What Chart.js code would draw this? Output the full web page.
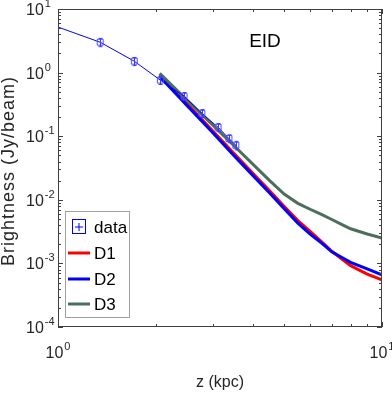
<!DOCTYPE html>
<html>
<head>
<meta charset="utf-8">
<script src="https://cdn.jsdelivr.net/npm/chart.js@4/dist/chart.umd.min.js"></script>
<style>
  html, body { margin: 0; padding: 0; background: #fff; }
  #wrap { position: relative; width: 392px; height: 393px; }
</style>
</head>
<body>
<div id="wrap"><canvas id="c" width="392" height="393"></canvas></div>
<script>
const dataZ = [1.35, 1.72, 2.07, 2.45, 2.78, 3.12, 3.37, 3.54];
const dataB = [3.0, 1.51, 0.76, 0.425, 0.229, 0.138, 0.092, 0.072];
const dataErr = [0.45, 0.22, 0.11, 0.06, 0.033, 0.02, 0.013, 0.011];
// the thin data line starts at the left edge
const lineStartZ = 1.0;
const lineStartB = 5.2;

const modelZ = [2.06, 2.5, 3, 3.5, 4, 4.5, 5, 5.5, 6, 6.5, 7, 7.5, 8, 9, 10];
const d1 = [0.92, 0.325, 0.122, 0.053, 0.0259, 0.0138, 0.0078, 0.0047, 0.0032, 0.0022, 0.00155, 0.00118, 0.00092, 0.00068, 0.00055];
const d2 = [0.87, 0.305, 0.114, 0.049, 0.024, 0.0128, 0.0072, 0.0043, 0.0029, 0.0021, 0.00152, 0.00125, 0.00104, 0.00082, 0.00066];
const d3 = [0.97, 0.371, 0.151, 0.070, 0.036, 0.020, 0.0122, 0.0088, 0.0071, 0.0059, 0.0049, 0.0041, 0.0035, 0.0029, 0.0025];

const xExp = [0, 1];
const yExp = [-4, -3, -2, -1, 0, 1];

const BLUE = '#0000ff', RED = '#ff0000', GREEN = '#4b6f5a';
const AXIS = '#404040', TEXT = '#262626';
const FONT = '"Liberation Sans", Arial, Helvetica, sans-serif';

const pts = (xs, ys) => xs.map((x, i) => ({ x: x, y: ys[i] }));
const dataLine = [{ x: lineStartZ, y: lineStartB }].concat(pts(dataZ, dataB));

// box, inward ticks, tick labels, titles, error bars
const decor = {
    id: 'decor',
    afterDatasetsDraw(chart) {
        const ctx = chart.ctx;
        const xs = chart.scales.x, ys = chart.scales.y;
        // error bars for the data points
        ctx.save();
        ctx.strokeStyle = '#3a3aff';
        ctx.lineWidth = 1;
        dataZ.forEach((z, i) => {
            const px = Math.round(xs.getPixelForValue(z)) + 0.5;
            const top = ys.getPixelForValue(dataB[i] + dataErr[i]);
            const bot = ys.getPixelForValue(dataB[i] - dataErr[i]);
            ctx.beginPath();
            ctx.moveTo(px, top); ctx.lineTo(px, bot);
            ctx.moveTo(px - 2, top); ctx.lineTo(px + 2, top);
            ctx.moveTo(px - 2, bot); ctx.lineTo(px + 2, bot);
            ctx.stroke();
        });
        ctx.restore();
    },
    afterDraw(chart) {
        const ctx = chart.ctx;
        const a = chart.chartArea;
        const xs = chart.scales.x, ys = chart.scales.y;
        ctx.save();
        ctx.strokeStyle = AXIS;
        ctx.lineWidth = 1;
        ctx.strokeRect(Math.round(a.left) + 0.5, Math.round(a.top) + 0.5,
            Math.round(a.right - a.left) - 1, Math.round(a.bottom - a.top) - 1);

        ctx.beginPath();
        // y ticks, left and right, major + minor
        for (let e = -4; e <= 1; e++) {
            for (let m = 1; m <= 9; m++) {
                const v = m * Math.pow(10, e);
                if (v > 10.0001) break;
                const py = Math.round(ys.getPixelForValue(v)) + 0.5;
                const len = m === 1 ? 5 : 3;
                ctx.moveTo(a.left, py); ctx.lineTo(a.left + len, py);
                ctx.moveTo(a.right, py); ctx.lineTo(a.right - len, py);
            }
        }
        // x ticks, top and bottom
        for (let m = 1; m <= 10; m++) {
            const px = Math.round(xs.getPixelForValue(m)) + 0.5;
            const len = (m === 1 || m === 10) ? 5 : 3;
            ctx.moveTo(px, a.bottom); ctx.lineTo(px, a.bottom - len);
            ctx.moveTo(px, a.top); ctx.lineTo(px, a.top + len);
        }
        ctx.stroke();

        // tick labels like 10^n
        ctx.fillStyle = TEXT;
        ctx.textBaseline = 'alphabetic';
        const drawPow = (x, y, e, align) => {
            ctx.font = '16px ' + FONT;
            const wBase = ctx.measureText('10').width;
            ctx.font = '11px ' + FONT;
            const sup = String(e);
            const wSup = ctx.measureText(sup).width;
            let x0 = x;
            if (align === 'center') x0 = x - (wBase + wSup + 1) / 2;
            ctx.textAlign = 'left';
            ctx.font = '16px ' + FONT;
            ctx.fillText('10', x0, y);
            ctx.font = '11px ' + FONT;
            ctx.fillText(sup, x0 + wBase + 1, y - 8);
        };
        yExp.forEach(e => {
            const py = ys.getPixelForValue(Math.pow(10, e));
            drawPow(26, py + 6, e, 'left');
        });
        xExp.forEach(e => {
            const px = xs.getPixelForValue(Math.pow(10, e));
            drawPow(px, a.bottom + 31, e, 'center');
        });

        // axis titles
        ctx.font = '16px ' + FONT;
        ctx.textAlign = 'center';
        ctx.fillText('z (kpc)', (a.left + a.right) / 2, a.bottom + 60);
        ctx.save();
        ctx.translate(14, (a.top + a.bottom) / 2 + 3);
        ctx.rotate(-Math.PI / 2);
        ctx.font = '18px ' + FONT;
        ctx.letterSpacing = '1px';
        ctx.fillText('Brightness (Jy/beam)', 0, 0);
        ctx.restore();

        // panel title
        ctx.font = '19px ' + FONT;
        ctx.fillStyle = '#000';
        ctx.fillText('EID', 265, 47);

        // legend
        const lx = 65.5, ly = 211.5, lw = 64, lh = 106;
        ctx.fillStyle = '#fff';
        ctx.fillRect(lx, ly, lw, lh);
        ctx.strokeStyle = '#a0a0a0';
        ctx.strokeRect(lx, ly, lw, lh);
        ctx.font = '17px ' + FONT;
        ctx.textAlign = 'left';
        ctx.textBaseline = 'middle';
        ctx.fillStyle = '#000';
        const rows = [
            { label: 'data', y: 227 },
            { label: 'D1', y: 253, color: RED },
            { label: 'D2', y: 279, color: BLUE },
            { label: 'D3', y: 304, color: GREEN }
        ];
        rows.forEach(r => {
            if (r.color) {
                ctx.strokeStyle = r.color;
                ctx.lineWidth = 3;
                ctx.beginPath();
                ctx.moveTo(68, r.y); ctx.lineTo(90, r.y);
                ctx.stroke();
            } else {
                ctx.strokeStyle = BLUE;
                ctx.lineWidth = 1;
                ctx.strokeRect(72.5, r.y - 7.5, 13, 14);
                ctx.beginPath();
                ctx.moveTo(79, r.y - 4); ctx.lineTo(79, r.y + 4);
                ctx.moveTo(75, r.y); ctx.lineTo(83, r.y);
                ctx.stroke();
            }
            ctx.fillText(r.label, 94, r.y + 1);
        });
        ctx.restore();
    }
};

new Chart(document.getElementById('c'), {
    type: 'scatter',
    data: {
        datasets: [
            {
                label: 'data',
                data: dataLine,
                showLine: true,
                borderColor: BLUE,
                borderWidth: 1,
                pointStyle: 'rect',
                pointRadius: dataLine.map((p, i) => i === 0 ? 0 : 4.2),
                pointBorderColor: '#5050ff',
                pointBackgroundColor: 'rgba(0,0,0,0)',
                pointBorderWidth: 1,
                order: 0
            },
            { label: 'D1', data: pts(modelZ, d1), showLine: true, borderColor: RED, borderWidth: 3, pointRadius: 0, order: 3 },
            { label: 'D2', data: pts(modelZ, d2), showLine: true, borderColor: BLUE, borderWidth: 3, pointRadius: 0, order: 2 },
            { label: 'D3', data: pts(modelZ, d3), showLine: true, borderColor: GREEN, borderWidth: 3, pointRadius: 0, order: 1 }
        ]
    },
    options: {
        responsive: false,
        animation: false,
        layout: { padding: { left: 58, top: 9, right: 10, bottom: 66 } },
        scales: {
            x: { type: 'logarithmic', min: 1, max: 10, display: false },
            y: { type: 'logarithmic', min: 1e-4, max: 10, display: false }
        },
        plugins: {
            legend: { display: false },
            tooltip: { enabled: false }
        }
    },
    plugins: [decor]
});
</script>
</body>
</html>
